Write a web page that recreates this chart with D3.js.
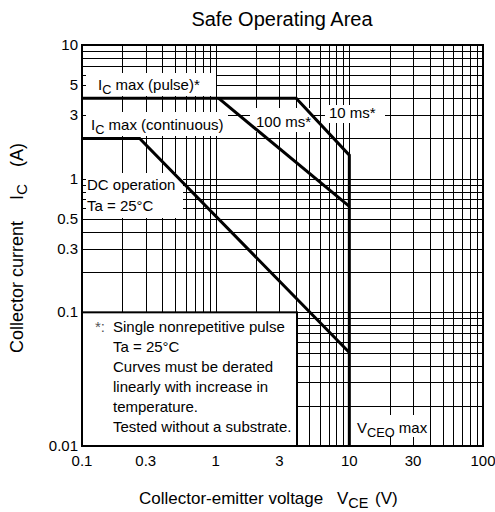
<!DOCTYPE html>
<html>
<head>
<meta charset="utf-8">
<script src="https://cdn.jsdelivr.net/npm/d3@7"></script>
<style>
  html, body { margin: 0; padding: 0; background: #fff; }
  svg text { font-family: "Liberation Sans", Arial, sans-serif; fill: #000; }
</style>
</head>
<body>
<svg id="chart" width="495" height="512"></svg>
<script>
// Axis ticks (log scales)
const xTickValues = [0.1, 0.3, 1, 3, 10, 30, 100];
const xTickLabels = ["0.1", "0.3", "1", "3", "10", "30", "100"];
const yTickValues = [0.01, 0.1, 0.3, 0.5, 1, 3, 5, 10];
const yTickLabels = ["0.01", "0.1", "0.3", "0.5", "1", "3", "5", "10"];

// Safe operating area boundaries: [VCE (V), IC (A)]
const pulse10ms = [[0.1, 4], [4, 4], [10, 1.5], [10, 0.01]];
const pulse100ms = [[1.05, 4], [10, 0.62]];
const dcOperation = [[0.1, 2], [0.27, 2], [10, 0.05]];

const svg = d3.select("#chart");
const x = d3.scaleLog().domain([0.1, 100]).range([82, 483]);
const y = d3.scaleLog().domain([0.01, 10]).range([446, 45]);

// Log grid: 1..9 within each decade
const gridX = [];
[0.1, 1, 10].forEach(d => { for (let m = 1; m <= 9; m++) gridX.push(d * m); });
gridX.push(100);
const gridY = [];
[0.01, 0.1, 1].forEach(d => { for (let m = 1; m <= 9; m++) gridY.push(d * m); });
gridY.push(10);

const grid = svg.append("g").attr("stroke", "#000").attr("stroke-width", 1)
  .attr("shape-rendering", "crispEdges");
grid.selectAll("line.v").data(gridX).join("line").attr("class", "v")
  .attr("x1", d => Math.round(x(d)) + 0.5).attr("x2", d => Math.round(x(d)) + 0.5)
  .attr("y1", y(10)).attr("y2", y(0.01));
grid.selectAll("line.h").data(gridY).join("line").attr("class", "h")
  .attr("y1", d => Math.round(y(d)) + 0.5).attr("y2", d => Math.round(y(d)) + 0.5)
  .attr("x1", x(0.1)).attr("x2", x(100));

// White panels behind the labels
const panels = [
  [86, 73, 130, 23],    // IC max (pulse)*
  [86, 112, 142, 24],   // IC max (continuous)
  [250, 108, 62, 24],   // 100 ms*
  [325, 105, 60, 18],   // 10 ms*
  [86, 173, 97, 45],    // DC operation
  [353, 415, 72, 22]    // VCEO max
];
svg.append("g").selectAll("rect").data(panels).join("rect")
  .attr("x", d => d[0]).attr("y", d => d[1]).attr("width", d => d[2]).attr("height", d => d[3])
  .attr("fill", "#fff");

// Note box
svg.append("rect")
  .attr("x", x(0.1)).attr("y", y(0.1))
  .attr("width", 297 - x(0.1)).attr("height", y(0.01) - y(0.1))
  .attr("fill", "#fff").attr("stroke", "#000").attr("stroke-width", 2);

// Boundary curves
const line = d3.line().x(d => x(d[0])).y(d => y(d[1]));
[pulse10ms, pulse100ms, dcOperation].forEach(s => {
  svg.append("path").datum(s).attr("d", line)
    .attr("fill", "none").attr("stroke", "#000").attr("stroke-width", 3)
    .attr("stroke-linejoin", "miter");
});

// Frame
svg.append("rect").attr("x", x(0.1)).attr("y", y(10))
  .attr("width", x(100) - x(0.1)).attr("height", y(0.01) - y(10))
  .attr("fill", "none").attr("stroke", "#000").attr("stroke-width", 2);

// Tick labels
svg.append("g").selectAll("text").data(xTickValues).join("text")
  .attr("x", d => x(d)).attr("y", 466).attr("text-anchor", "middle")
  .attr("font-size", 15).text((d, i) => xTickLabels[i]);
svg.append("g").selectAll("text").data(yTickValues).join("text")
  .attr("x", 78).attr("y", d => y(d) + 5).attr("text-anchor", "end")
  .attr("font-size", 15).text((d, i) => yTickLabels[i]);

// Title
svg.append("text").attr("x", 282).attr("y", 26).attr("text-anchor", "middle")
  .attr("font-size", 20).text("Safe Operating Area");

// Helper for text with a subscript
function subText(g, px, py, size, parts) {
  const t = g.append("text").attr("x", px).attr("y", py).attr("font-size", size);
  parts.forEach(p => {
    const ts = t.append("tspan").text(p.t);
    if (p.x !== undefined) ts.attr("x", p.x);
    if (p.sub) ts.attr("font-size", size * 0.85).attr("dy", 4);
    if (p.up) ts.attr("dy", -4);
  });
  return t;
}

// Axis titles
subText(svg, 139, 504, 17, [
  { t: "Collector-emitter voltage" },
  { t: "V", x: 337 }, { t: "CE", sub: true },
  { t: "(V)", x: 375, up: true }
]);
const yt = svg.append("g").attr("transform", "translate(23,353) rotate(-90)");
subText(yt, 0, 0, 18, [
  { t: "Collector current" },
  { t: "I", x: 153 }, { t: "C", sub: true },
  { t: "(A)", x: 186, up: true }
]);

// Curve labels
subText(svg, 98, 90, 15, [{ t: "I" }, { t: "C", sub: true }, { t: " max (pulse)*", up: true }]);
subText(svg, 91, 130, 15, [{ t: "I" }, { t: "C", sub: true }, { t: " max (continuous)", up: true }]);
svg.append("text").attr("x", 256).attr("y", 127).attr("font-size", 15).text("100 ms*");
svg.append("text").attr("x", 329).attr("y", 118).attr("font-size", 15).text("10 ms*");
svg.append("text").attr("x", 87).attr("y", 190).attr("font-size", 15).text("DC operation");
svg.append("text").attr("x", 87).attr("y", 211).attr("font-size", 15).text("Ta = 25°C");
subText(svg, 357, 433, 15, [{ t: "V" }, { t: "CEO", sub: true }, { t: " max", up: true }]);

// Note text
const note = svg.append("g").attr("font-size", 15);
note.append("text").attr("x", 95).attr("y", 332).style("fill", "#555").text("*:");
const noteLines = ["Single nonrepetitive pulse", "Ta = 25°C", "Curves must be derated",
  "linearly with increase in", "temperature.", "Tested without a substrate."];
note.selectAll("text.n").data(noteLines).join("text").attr("class", "n")
  .attr("x", 113).attr("y", (d, i) => 332 + i * 20).text(d => d);
</script>
</body>
</html>
